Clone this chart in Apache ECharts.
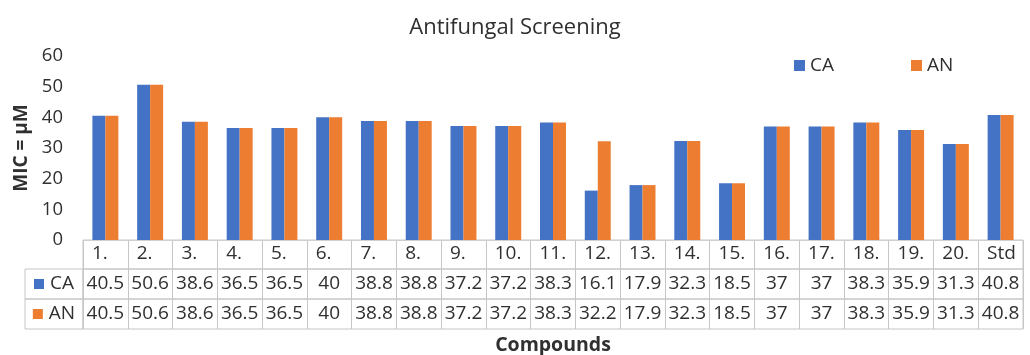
<!DOCTYPE html>
<html><head><meta charset="utf-8">
<script src="https://cdn.jsdelivr.net/npm/echarts@6/dist/echarts.min.js"></script>
<style>html,body{margin:0;padding:0;background:#fff}#c{width:1030px;height:355px}</style>
</head><body><div id="c"></div>
<script>
const titleText = 'Antifungal Screening';
const yAxisName = 'MIC = µM';
const xAxisName = 'Compounds';
const categories = ['1.','2.','3.','4.','5.','6.','7.','8.','9.','10.','11.','12.','13.','14.','15.','16.','17.','18.','19.','20.','Std'];
const caValues = [40.5,50.6,38.6,36.5,36.5,40,38.8,38.8,37.2,37.2,38.3,16.1,17.9,32.3,18.5,37,37,38.3,35.9,31.3,40.8];
const anValues = [40.5,50.6,38.6,36.5,36.5,40,38.8,38.8,37.2,37.2,38.3,32.2,17.9,32.3,18.5,37,37,38.3,35.9,31.3,40.8];
const seriesNames = ['CA','AN'];
const colors = ['#4472C4','#ED7D31'];
const yMin = 0, yMax = 60, yInterval = 10;

const FONT = 'Open Sans';
const TXT = '#303030';
const BORDER = '#c6c6c6';
const chart = echarts.init(document.getElementById('c'));

const L = 83, W = 940;
const rowH = [29, 30, 30];
const tableTop = 240;

function tableGrid(top, h, left, width) {
  return {left: left, top: top, width: width, height: h, show: true, borderColor: BORDER, borderWidth: 1,
    containLabel: false, outerBoundsMode: 'none'};
}
const grids = [
  {left: L, top: 56, width: W, height: 184, containLabel: false, outerBoundsMode: 'none'},
  tableGrid(tableTop, rowH[0], L, W),
  tableGrid(tableTop + rowH[0], rowH[1], L, W),
  tableGrid(tableTop + rowH[0] + rowH[1], rowH[2], L, W),
  tableGrid(tableTop + rowH[0], rowH[1], 25, L - 25),
  tableGrid(tableTop + rowH[0] + rowH[1], rowH[2], 25, L - 25)
];

function cellAxis(gridIndex, data, formatter, rich, extra) {
  return Object.assign({
    type: 'category', gridIndex: gridIndex, data: data, position: 'bottom',
    axisLine: {show: false}, axisTick: {show: false},
    splitLine: {show: true, interval: 0, lineStyle: {color: BORDER, width: 1}},
    axisLabel: {interval: 0, margin: -15, verticalAlign: 'middle', color: TXT, fontSize: 19, fontFamily: FONT,
      formatter: formatter, rich: rich}
  }, extra || {});
}

const option = {
  animation: false,
  textStyle: {fontFamily: FONT},
  color: colors,
  title: {text: titleText, left: 'center', top: 12, textStyle: {fontFamily: FONT, fontSize: 22, fontWeight: 'normal', color: TXT}},
  legend: {data: seriesNames, left: 789, top: 51, icon: 'rect', itemWidth: 11, itemHeight: 11, itemGap: 77,
    textStyle: {fontFamily: FONT, fontSize: 19, color: TXT}},
  grid: grids,
  xAxis: [
    {type: 'category', gridIndex: 0, data: categories, axisLine: {show: true, lineStyle: {color: '#d0d0d0'}},
      axisTick: {show: false}, axisLabel: {show: false}},
    cellAxis(1, categories, v => '{h|' + v + '}', {h: {width: 27, align: 'left', fontSize: 19, color: TXT, fontFamily: FONT}}),
    cellAxis(2, categories, (v, i) => String(caValues[i])),
    cellAxis(3, categories, (v, i) => String(anValues[i]), null,
      {name: xAxisName, nameLocation: 'middle', nameGap: 6, nameMoveOverlap: false,
       nameTextStyle: {fontFamily: FONT, fontSize: 19.5, fontWeight: 'bold', color: TXT}}),
    cellAxis(4, [seriesNames[0]], v => '{sq|}{t|' + v + '}',
      {sq: {width: 10, height: 10, backgroundColor: colors[0]}, t: {padding: [0,0,0,6], fontSize: 19, color: TXT, fontFamily: FONT}},
      {splitLine: {show: false}}),
    cellAxis(5, [seriesNames[1]], v => '{sq|}{t|' + v + '}',
      {sq: {width: 10, height: 10, backgroundColor: colors[1]}, t: {padding: [0,0,0,6], fontSize: 19, color: TXT, fontFamily: FONT}},
      {splitLine: {show: false}})
  ],
  yAxis: [
    {type: 'value', gridIndex: 0, min: yMin, max: yMax, interval: yInterval,
      name: yAxisName, nameLocation: 'middle', nameGap: 52,
      nameTextStyle: {fontFamily: FONT, fontSize: 19, fontWeight: 'bold', color: TXT},
      axisLine: {show: false}, axisTick: {show: false}, splitLine: {show: false},
      axisLabel: {margin: 20, color: TXT, fontSize: 18.5, fontFamily: FONT}},
    {type: 'value', gridIndex: 1, show: false},
    {type: 'value', gridIndex: 2, show: false},
    {type: 'value', gridIndex: 3, show: false},
    {type: 'value', gridIndex: 4, show: false},
    {type: 'value', gridIndex: 5, show: false}
  ],
  series: [
    {name: seriesNames[0], type: 'bar', xAxisIndex: 0, yAxisIndex: 0, data: caValues, barGap: '0%', barCategoryGap: '42%', itemStyle: {color: colors[0]}},
    {name: seriesNames[1], type: 'bar', xAxisIndex: 0, yAxisIndex: 0, data: anValues, barGap: '0%', barCategoryGap: '42%', itemStyle: {color: colors[1]}}
  ]
};
chart.setOption(option);
</script>
</body></html>
